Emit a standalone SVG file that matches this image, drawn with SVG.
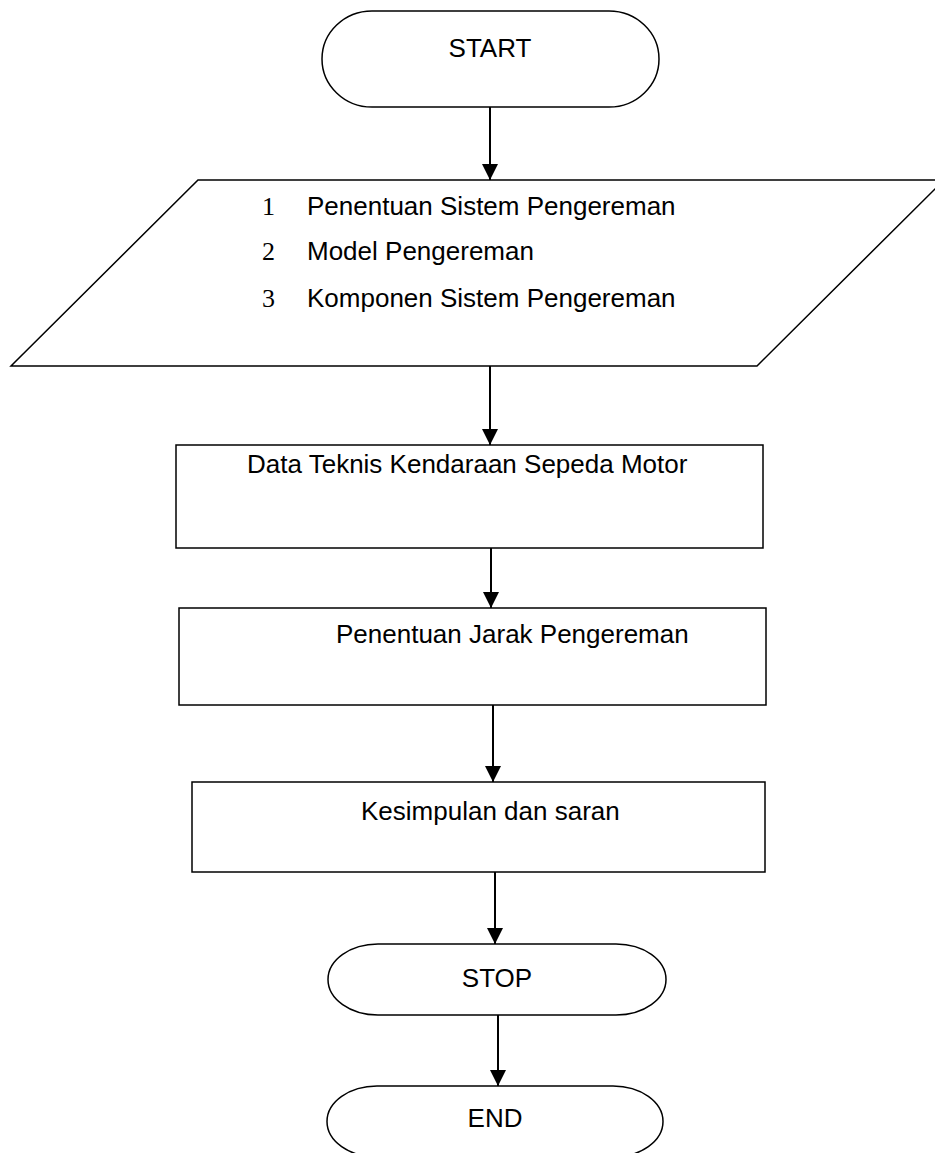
<svg xmlns="http://www.w3.org/2000/svg" width="935" height="1153" viewBox="0 0 935 1153">
<defs>
<style>
.shape{fill:#fff;stroke:#000;stroke-width:1.5}
.lbl{font-family:"Liberation Sans",Arial,sans-serif;font-size:26px;fill:#000}
.num{font-family:"Liberation Serif","Times New Roman",serif;font-size:26px;fill:#000}
.conn{stroke:#000;stroke-width:2;fill:none}
</style>
<marker id="arr" markerUnits="userSpaceOnUse" markerWidth="16" markerHeight="16" viewBox="0 0 16 16" refX="8" refY="16" orient="auto-start-reverse">
<path d="M0,0 L16,0 L8,16 Z" fill="#000" transform="rotate(-90 8 8)"/>
</marker>
<marker id="ah" markerUnits="userSpaceOnUse" markerWidth="16" markerHeight="16" viewBox="0 0 16 16" refX="16" refY="8" orient="auto">
<path d="M0,0 L16,8 L0,16 Z" fill="#000"/>
</marker>
</defs>
<rect width="935" height="1153" fill="#fff"/>
<g id="connectors">
<line class="conn" x1="490" y1="107" x2="490" y2="180" marker-end="url(#ah)"/>
<line class="conn" x1="490" y1="366" x2="490" y2="445" marker-end="url(#ah)"/>
<line class="conn" x1="491" y1="548" x2="491" y2="608" marker-end="url(#ah)"/>
<line class="conn" x1="493" y1="705" x2="493" y2="782" marker-end="url(#ah)"/>
<line class="conn" x1="495" y1="872" x2="495" y2="944" marker-end="url(#ah)"/>
<line class="conn" x1="498" y1="1015" x2="498" y2="1086" marker-end="url(#ah)"/>
</g>
<g id="start">
<rect class="shape" x="322" y="11" width="337" height="96" rx="50" ry="48"/>
<text class="lbl" x="490" y="57" text-anchor="middle">START</text>
</g>
<g id="input">
<polygon class="shape" points="198,180 944,180 757,366 11,366"/>
<text class="num" x="262" y="215">1</text>
<text class="lbl" x="307" y="215">Penentuan Sistem Pengereman</text>
<text class="num" x="262" y="260">2</text>
<text class="lbl" x="307" y="260">Model Pengereman</text>
<text class="num" x="262" y="307">3</text>
<text class="lbl" x="307" y="307">Komponen Sistem Pengereman</text>
</g>
<g id="data">
<rect class="shape" x="176" y="445" width="587" height="103"/>
<text class="lbl" x="247" y="473">Data Teknis Kendaraan Sepeda Motor</text>
</g>
<g id="jarak">
<rect class="shape" x="179" y="608" width="587" height="97"/>
<text class="lbl" x="336" y="643">Penentuan Jarak Pengereman</text>
</g>
<g id="kesimpulan">
<rect class="shape" x="192" y="782" width="573" height="90"/>
<text class="lbl" x="361" y="820">Kesimpulan dan saran</text>
</g>
<g id="stop">
<rect class="shape" x="328" y="944" width="338" height="71" rx="50" ry="35.5"/>
<text class="lbl" x="497" y="987" text-anchor="middle">STOP</text>
</g>
<g id="end">
<rect class="shape" x="327" y="1086" width="336" height="71" rx="50" ry="35.5"/>
<text class="lbl" x="495" y="1127" text-anchor="middle">END</text>
</g>
</svg>
